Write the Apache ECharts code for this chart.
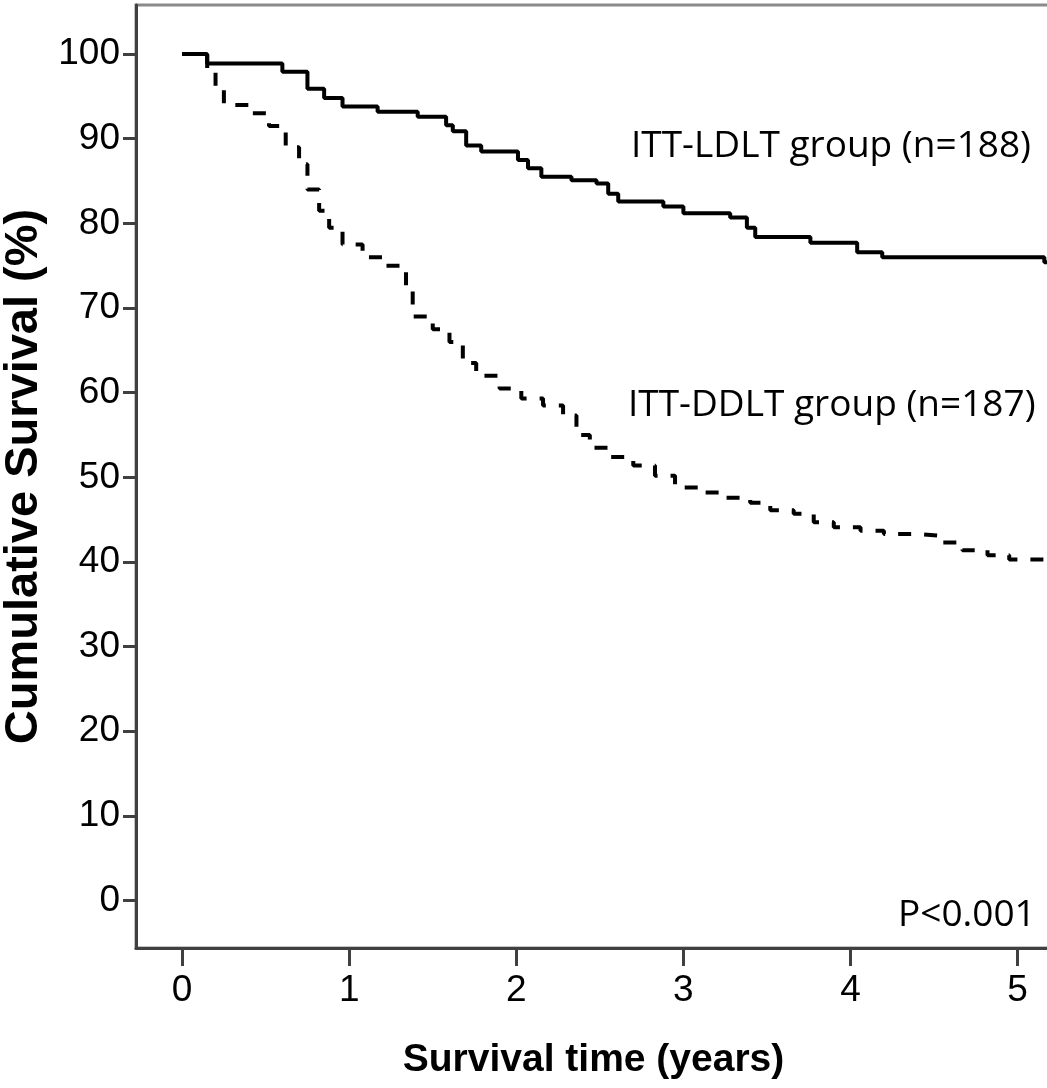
<!DOCTYPE html>
<html>
<head>
<meta charset="utf-8">
<script src="https://cdn.jsdelivr.net/npm/echarts@6/dist/echarts.min.js"></script>
<style>html,body{margin:0;padding:0;background:#fff}#c{width:1047px;height:1088px}</style>
</head>
<body>
<div id="c"></div>
<script>
// Kaplan-Meier step data: [time (years), cumulative survival (%)]
const ldltTimes  = [0, 0.15, 0.60, 0.75, 0.85, 0.96, 1.17, 1.41, 1.58, 1.62, 1.70, 1.79, 2.01, 2.07, 2.15, 2.33, 2.48, 2.55, 2.61, 2.88, 3.00, 3.28, 3.38, 3.43, 3.76, 4.04, 4.19, 5.16, 5.20];
const ldltValues = [100, 98.9, 97.9, 95.9, 94.8, 93.8, 93.2, 92.6, 91.6, 90.9, 89.2, 88.5, 87.5, 86.5, 85.5, 85.1, 84.7, 83.5, 82.6, 82.0, 81.2, 80.7, 79.5, 78.4, 77.7, 76.6, 76.0, 75.4, 75.4];

const ddltTimes  = [0, 0.15, 0.20, 0.25, 0.40, 0.52, 0.62, 0.70, 0.75, 0.82, 0.88, 0.96, 1.08, 1.22, 1.34, 1.38, 1.50, 1.60, 1.68, 1.76, 1.90, 2.03, 2.16, 2.28, 2.36, 2.44, 2.56, 2.70, 2.83, 2.95, 3.10, 3.24, 3.40, 3.52, 3.66, 3.78, 3.90, 4.06, 4.20, 4.40, 4.55, 4.67, 4.82, 4.95, 5.20];
const ddltValues = [100, 98, 96, 94, 93, 91.5, 89, 87, 84, 81.5, 79.5, 77.5, 76, 75, 72, 69, 67.5, 66, 63.5, 62, 60.5, 59.3, 58.5, 57.3, 55, 53.5, 52.4, 51.4, 50.2, 48.8, 48.2, 47.6, 47, 46.1, 45.7, 44.7, 44.1, 43.7, 43.3, 43.1, 42.3, 41.4, 40.8, 40.3, 40.2];

const xTicks = [0, 1, 2, 3, 4, 5];
const yTicks = [0, 10, 20, 30, 40, 50, 60, 70, 80, 90, 100];

const ldltLabel = 'ITT-LDLT group (n=188)';
const ddltLabel = 'ITT-DDLT group (n=187)';
const pLabel = 'P<0.001';

const zip = (a, b) => a.map((t, i) => [t, b[i]]);

const sans = '"Liberation Sans", Arial, sans-serif';
const chart = echarts.init(document.getElementById('c'), null, {renderer: 'canvas'});
chart.setOption({
  animation: false,
  backgroundColor: '#fff',
  grid: {left: 136, top: 5, right: -4, bottom: 140, outerBoundsMode: 'none', containLabel: false,
         show: true, borderColor: '#8a8a8a', borderWidth: 3, backgroundColor: 'transparent'},
  xAxis: {
    type: 'value', min: -0.276, max: 5.2,
    splitLine: {show: false},
    axisLine: {show: true, onZero: false, lineStyle: {color: '#404040', width: 3}},
    axisTick: {show: true, length: 18, lineStyle: {color: '#404040', width: 3}, customValues: xTicks},
    axisLabel: {customValues: xTicks, color: '#000', fontFamily: sans, fontSize: 37, margin: 24},
    name: 'Survival time (years)', nameLocation: 'middle', nameGap: 93,
    nameTextStyle: {color: '#000', fontFamily: sans, fontWeight: 'bold', fontSize: 39}
  },
  yAxis: {
    type: 'value', min: -5.6, max: 105.8,
    splitLine: {show: false},
    axisLine: {show: true, onZero: false, lineStyle: {color: '#404040', width: 3}},
    axisTick: {show: true, length: 13, lineStyle: {color: '#404040', width: 3}, customValues: yTicks},
    axisLabel: {customValues: yTicks, color: '#000', fontFamily: sans, fontSize: 37, margin: 16},
    name: 'Cumulative Survival (%)', nameLocation: 'middle', nameGap: 80, nameRotate: 90,
    nameTextStyle: {color: '#000', fontFamily: sans, fontWeight: 'bold', fontSize: 47}
  },
  series: [
    {type: 'line', step: 'end', showSymbol: false, data: zip(ldltTimes, ldltValues),
     lineStyle: {color: '#000', width: 4}},
    {type: 'line', step: 'end', showSymbol: false, data: zip(ddltTimes, ddltValues),
     lineStyle: {color: '#000', width: 4, type: [13, 13]}}
  ],
  graphic: [
    {type: 'text', left: 631, top: 128, style: {text: ldltLabel, fill: '#000', font: '37px "Open Sans", sans-serif'}},
    {type: 'text', left: 628, top: 387, style: {text: ddltLabel, fill: '#000', font: '37px "Open Sans", sans-serif'}},
    {type: 'text', left: 898, top: 897, style: {text: pLabel, fill: '#000', font: '37px "Open Sans", sans-serif'}}
  ]
});
</script>
</body>
</html>
